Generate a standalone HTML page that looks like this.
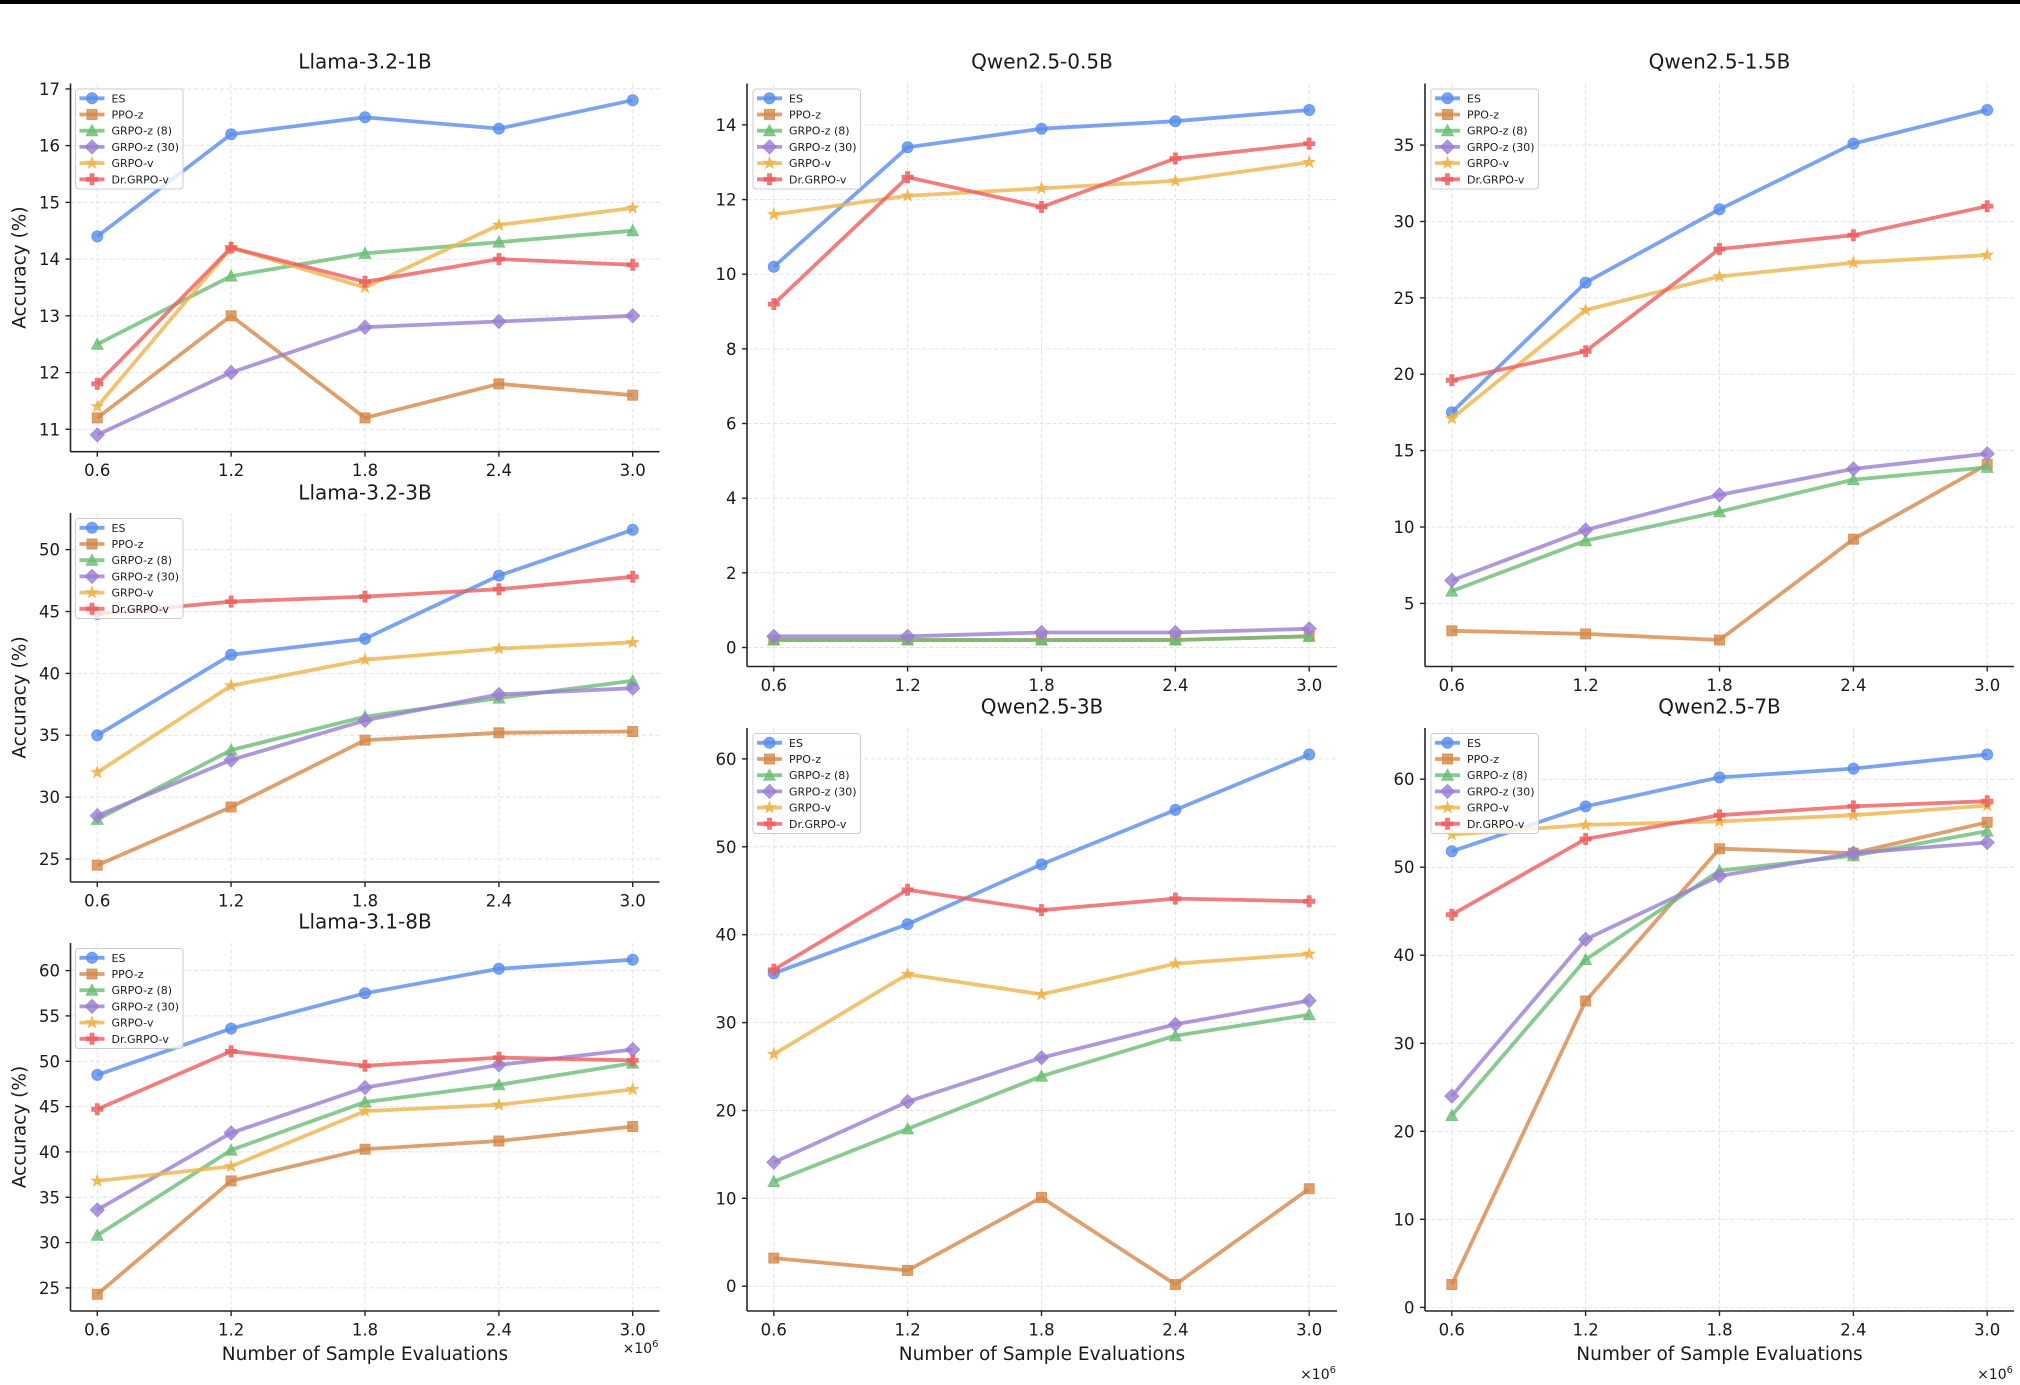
<!DOCTYPE html>
<html>
<head>
<meta charset="utf-8">
<style>
html,body{margin:0;padding:0;background:#fff;}
svg{display:block;}
text{font-family:"DejaVu Sans","Liberation Sans",sans-serif;fill:#1a1a1a;}
.tl{font-size:16.5px;}
.tlx{font-size:16.5px;text-anchor:middle;}
.tly{font-size:16.5px;text-anchor:end;}
.ttl{font-size:20px;text-anchor:middle;}
.lab{font-size:18.5px;text-anchor:middle;}
.lg{font-size:11px;}
.off{font-size:14px;text-anchor:end;}
.grid{stroke:#e2e2e2;stroke-width:1;stroke-dasharray:4 2.5;fill:none;}
.sp{stroke:#262626;stroke-width:1.6;fill:none;}
.tk{stroke:#262626;stroke-width:1.4;fill:none;}
.ln{fill:none;stroke-width:3.8;stroke-opacity:.8;stroke-linejoin:round;}
.es{stroke:#5A8DEC}.pp{stroke:#D5884A}.g8{stroke:#6ABD74}.g3{stroke:#9A7ED3}.gv{stroke:#ECB44C}.dr{stroke:#EC5E5E}
.d.es{marker:url(#k-es)}.d.pp{marker:url(#k-pp)}.d.g8{marker:url(#k-g8)}.d.g3{marker:url(#k-g3)}.d.gv{marker:url(#k-gv)}.d.dr{marker:url(#k-dr)}
.h.es{marker-mid:url(#k-es)}.h.pp{marker-mid:url(#k-pp)}.h.g8{marker-mid:url(#k-g8)}.h.g3{marker-mid:url(#k-g3)}.h.gv{marker-mid:url(#k-gv)}.h.dr{marker-mid:url(#k-dr)}
.lbox{fill:#fff;fill-opacity:.8;stroke:#cccccc;stroke-width:1;}
</style>
</head>
<body>
<svg width="2020" height="1385" viewBox="0 0 2020 1385" xmlns="http://www.w3.org/2000/svg">
<defs>
<marker id="k-es" markerUnits="userSpaceOnUse" markerWidth="20" markerHeight="20" viewBox="-10 -10 20 20" refX="0" refY="0" orient="0" overflow="visible"><circle r="5.5" fill="#5A8DEC" fill-opacity=".8" stroke="#5A8DEC" stroke-opacity=".8" stroke-width="1"/></marker>
<marker id="k-pp" markerUnits="userSpaceOnUse" markerWidth="20" markerHeight="20" viewBox="-10 -10 20 20" refX="0" refY="0" orient="0" overflow="visible"><rect x="-5" y="-5" width="10" height="10" fill="#D5884A" fill-opacity=".8" stroke="#D5884A" stroke-opacity=".8" stroke-width="1"/></marker>
<marker id="k-g8" markerUnits="userSpaceOnUse" markerWidth="20" markerHeight="20" viewBox="-10 -10 20 20" refX="0" refY="0" orient="0" overflow="visible"><polygon points="0,-6 5.8,5 -5.8,5" fill="#6ABD74" fill-opacity=".8" stroke="#6ABD74" stroke-opacity=".8" stroke-width="1"/></marker>
<marker id="k-g3" markerUnits="userSpaceOnUse" markerWidth="20" markerHeight="20" viewBox="-10 -10 20 20" refX="0" refY="0" orient="0" overflow="visible"><polygon points="0,-7 7,0 0,7 -7,0" fill="#9A7ED3" fill-opacity=".8" stroke="#9A7ED3" stroke-opacity=".8" stroke-width="1"/></marker>
<marker id="k-gv" markerUnits="userSpaceOnUse" markerWidth="20" markerHeight="20" viewBox="-10 -10 20 20" refX="0" refY="0" orient="0" overflow="visible"><polygon points="0,-6 1.41,-1.94 5.71,-1.85 2.28,0.74 3.53,4.85 0,2.4 -3.53,4.85 -2.28,0.74 -5.71,-1.85 -1.41,-1.94" fill="#ECB44C" fill-opacity=".85" stroke="#ECB44C" stroke-opacity=".85" stroke-width="1"/></marker>
<marker id="k-dr" markerUnits="userSpaceOnUse" markerWidth="20" markerHeight="20" viewBox="-10 -10 20 20" refX="0" refY="0" orient="0" overflow="visible"><polygon points="-1.9,-5.5 1.9,-5.5 1.9,-1.9 5.5,-1.9 5.5,1.9 1.9,1.9 1.9,5.5 -1.9,5.5 -1.9,1.9 -5.5,1.9 -5.5,-1.9 -1.9,-1.9" fill="#EC5E5E" fill-opacity=".8" stroke="#EC5E5E" stroke-opacity=".8" stroke-width="1"/></marker>
</defs>

<rect x="0" y="0" width="2020" height="1385" fill="#fff"/>
<rect x="0" y="0" width="2020" height="4" fill="#000"/>

<!-- ===================== Chart A: Llama-3.2-1B ===================== -->
<g>
<g class="grid">
<line x1="97.3" y1="83.5" x2="97.3" y2="451.7"/><line x1="231.1" y1="83.5" x2="231.1" y2="451.7"/><line x1="365" y1="83.5" x2="365" y2="451.7"/><line x1="498.9" y1="83.5" x2="498.9" y2="451.7"/><line x1="632.7" y1="83.5" x2="632.7" y2="451.7"/>
<line x1="70.5" y1="429.3" x2="659.5" y2="429.3"/><line x1="70.5" y1="372.6" x2="659.5" y2="372.6"/><line x1="70.5" y1="315.8" x2="659.5" y2="315.8"/><line x1="70.5" y1="259.1" x2="659.5" y2="259.1"/><line x1="70.5" y1="202.4" x2="659.5" y2="202.4"/><line x1="70.5" y1="145.6" x2="659.5" y2="145.6"/><line x1="70.5" y1="88.9" x2="659.5" y2="88.9"/>
</g>
<g class="tk">
<line x1="97.3" y1="451.7" x2="97.3" y2="456.7"/><line x1="231.1" y1="451.7" x2="231.1" y2="456.7"/><line x1="365" y1="451.7" x2="365" y2="456.7"/><line x1="498.9" y1="451.7" x2="498.9" y2="456.7"/><line x1="632.7" y1="451.7" x2="632.7" y2="456.7"/>
<line x1="65.5" y1="429.3" x2="70.5" y2="429.3"/><line x1="65.5" y1="372.6" x2="70.5" y2="372.6"/><line x1="65.5" y1="315.8" x2="70.5" y2="315.8"/><line x1="65.5" y1="259.1" x2="70.5" y2="259.1"/><line x1="65.5" y1="202.4" x2="70.5" y2="202.4"/><line x1="65.5" y1="145.6" x2="70.5" y2="145.6"/><line x1="65.5" y1="88.9" x2="70.5" y2="88.9"/>
</g>
<text class="tlx" x="97.3" y="476.2">0.6</text><text class="tlx" x="231.1" y="476.2">1.2</text><text class="tlx" x="365" y="476.2">1.8</text><text class="tlx" x="498.9" y="476.2">2.4</text><text class="tlx" x="632.7" y="476.2">3.0</text>
<text class="tly" x="60" y="435.3">11</text><text class="tly" x="60" y="378.6">12</text><text class="tly" x="60" y="321.8">13</text><text class="tly" x="60" y="265.1">14</text><text class="tly" x="60" y="208.4">15</text><text class="tly" x="60" y="151.6">16</text><text class="tly" x="60" y="94.9">17</text>
<text class="ttl" x="365" y="68.3">Llama-3.2-1B</text>
<text class="lab" transform="translate(25.5,267.6) rotate(-90)">Accuracy (%)</text>
<polyline class="ln d es" points="97.3,236.4 231.1,134.3 365,117.3 498.9,128.6 632.7,100.2"/>
<polyline class="ln d pp" points="97.3,417.9 231.1,315.8 365,417.9 498.9,383.9 632.7,395.2"/>
<polyline class="ln d g8" points="97.3,344.2 231.1,276.1 365,253.4 498.9,242.1 632.7,230.7"/>
<polyline class="ln d g3" points="97.3,434.9 231.1,372.5 365,327.2 498.9,321.5 632.7,315.8"/>
<polyline class="ln d gv" points="97.3,406.6 231.1,247.7 365,287.4 498.9,225 632.7,208"/>
<polyline class="ln d dr" points="97.3,383.9 231.1,247.7 365,281.8 498.9,259.1 632.7,264.8"/>
<g class="sp"><line x1="70.5" y1="83.5" x2="70.5" y2="451.7"/><line x1="70.5" y1="451.7" x2="659.5" y2="451.7"/></g>
<g transform="translate(75.5,89)">
<rect class="lbox" x="0" y="0" width="107.5" height="100" rx="3"/>
<polyline class="ln h es" points="4,9.3 16.5,9.3 29,9.3"/><text class="lg" x="36" y="13.3">ES</text>
<polyline class="ln h pp" points="4,25.5 16.5,25.5 29,25.5"/><text class="lg" x="36" y="29.5">PPO-z</text>
<polyline class="ln h g8" points="4,41.7 16.5,41.7 29,41.7"/><text class="lg" x="36" y="45.7">GRPO-z (8)</text>
<polyline class="ln h g3" points="4,57.9 16.5,57.9 29,57.9"/><text class="lg" x="36" y="61.9">GRPO-z (30)</text>
<polyline class="ln h gv" points="4,74.1 16.5,74.1 29,74.1"/><text class="lg" x="36" y="78.1">GRPO-v</text>
<polyline class="ln h dr" points="4,90.3 16.5,90.3 29,90.3"/><text class="lg" x="36" y="94.3">Dr.GRPO-v</text>
</g>
</g>

<!-- ===================== Chart B: Llama-3.2-3B ===================== -->
<g>
<g class="grid">
<line x1="97.3" y1="513" x2="97.3" y2="882"/><line x1="231.1" y1="513" x2="231.1" y2="882"/><line x1="365" y1="513" x2="365" y2="882"/><line x1="498.9" y1="513" x2="498.9" y2="882"/><line x1="632.7" y1="513" x2="632.7" y2="882"/>
<line x1="70.5" y1="859" x2="659.5" y2="859"/><line x1="70.5" y1="797.1" x2="659.5" y2="797.1"/><line x1="70.5" y1="735.2" x2="659.5" y2="735.2"/><line x1="70.5" y1="673.4" x2="659.5" y2="673.4"/><line x1="70.5" y1="611.5" x2="659.5" y2="611.5"/><line x1="70.5" y1="549.6" x2="659.5" y2="549.6"/>
</g>
<g class="tk">
<line x1="97.3" y1="882" x2="97.3" y2="887"/><line x1="231.1" y1="882" x2="231.1" y2="887"/><line x1="365" y1="882" x2="365" y2="887"/><line x1="498.9" y1="882" x2="498.9" y2="887"/><line x1="632.7" y1="882" x2="632.7" y2="887"/>
<line x1="65.5" y1="859" x2="70.5" y2="859"/><line x1="65.5" y1="797.1" x2="70.5" y2="797.1"/><line x1="65.5" y1="735.2" x2="70.5" y2="735.2"/><line x1="65.5" y1="673.4" x2="70.5" y2="673.4"/><line x1="65.5" y1="611.5" x2="70.5" y2="611.5"/><line x1="65.5" y1="549.6" x2="70.5" y2="549.6"/>
</g>
<text class="tlx" x="97.3" y="906.5">0.6</text><text class="tlx" x="231.1" y="906.5">1.2</text><text class="tlx" x="365" y="906.5">1.8</text><text class="tlx" x="498.9" y="906.5">2.4</text><text class="tlx" x="632.7" y="906.5">3.0</text>
<text class="tly" x="60" y="865">25</text><text class="tly" x="60" y="803.1">30</text><text class="tly" x="60" y="741.2">35</text><text class="tly" x="60" y="679.4">40</text><text class="tly" x="60" y="617.5">45</text><text class="tly" x="60" y="555.6">50</text>
<text class="ttl" x="365" y="499.3">Llama-3.2-3B</text>
<text class="lab" transform="translate(25.5,697.5) rotate(-90)">Accuracy (%)</text>
<polyline class="ln d es" points="97.3,735.2 231.1,654.8 365,638.7 498.9,575.6 632.7,529.8"/>
<polyline class="ln d pp" points="97.3,865.2 231.1,807 365,740.2 498.9,732.8 632.7,731.5"/>
<polyline class="ln d g8" points="97.3,819.4 231.1,750.1 365,716.7 498.9,698.1 632.7,680.8"/>
<polyline class="ln d g3" points="97.3,815.7 231.1,760 365,720.4 498.9,694.4 632.7,688.2"/>
<polyline class="ln d gv" points="97.3,772.4 231.1,685.7 365,659.7 498.9,648.6 632.7,642.4"/>
<polyline class="ln d dr" points="97.3,613.9 231.1,601.6 365,596.6 498.9,589.2 632.7,576.8"/>
<g class="sp"><line x1="70.5" y1="513" x2="70.5" y2="882"/><line x1="70.5" y1="882" x2="659.5" y2="882"/></g>
<g transform="translate(75.5,518.5)">
<rect class="lbox" x="0" y="0" width="107.5" height="100" rx="3"/>
<polyline class="ln h es" points="4,9.3 16.5,9.3 29,9.3"/><text class="lg" x="36" y="13.3">ES</text>
<polyline class="ln h pp" points="4,25.5 16.5,25.5 29,25.5"/><text class="lg" x="36" y="29.5">PPO-z</text>
<polyline class="ln h g8" points="4,41.7 16.5,41.7 29,41.7"/><text class="lg" x="36" y="45.7">GRPO-z (8)</text>
<polyline class="ln h g3" points="4,57.9 16.5,57.9 29,57.9"/><text class="lg" x="36" y="61.9">GRPO-z (30)</text>
<polyline class="ln h gv" points="4,74.1 16.5,74.1 29,74.1"/><text class="lg" x="36" y="78.1">GRPO-v</text>
<polyline class="ln h dr" points="4,90.3 16.5,90.3 29,90.3"/><text class="lg" x="36" y="94.3">Dr.GRPO-v</text>
</g>
</g>

<!-- ===================== Chart C: Llama-3.1-8B ===================== -->
<g>
<g class="grid">
<line x1="97.3" y1="943" x2="97.3" y2="1311"/><line x1="231.1" y1="943" x2="231.1" y2="1311"/><line x1="365" y1="943" x2="365" y2="1311"/><line x1="498.9" y1="943" x2="498.9" y2="1311"/><line x1="632.7" y1="943" x2="632.7" y2="1311"/>
<line x1="70.5" y1="1287.9" x2="659.5" y2="1287.9"/><line x1="70.5" y1="1242.6" x2="659.5" y2="1242.6"/><line x1="70.5" y1="1197.3" x2="659.5" y2="1197.3"/><line x1="70.5" y1="1151.9" x2="659.5" y2="1151.9"/><line x1="70.5" y1="1106.6" x2="659.5" y2="1106.6"/><line x1="70.5" y1="1061.3" x2="659.5" y2="1061.3"/><line x1="70.5" y1="1015.9" x2="659.5" y2="1015.9"/><line x1="70.5" y1="970.6" x2="659.5" y2="970.6"/>
</g>
<g class="tk">
<line x1="97.3" y1="1311" x2="97.3" y2="1316"/><line x1="231.1" y1="1311" x2="231.1" y2="1316"/><line x1="365" y1="1311" x2="365" y2="1316"/><line x1="498.9" y1="1311" x2="498.9" y2="1316"/><line x1="632.7" y1="1311" x2="632.7" y2="1316"/>
<line x1="65.5" y1="1287.9" x2="70.5" y2="1287.9"/><line x1="65.5" y1="1242.6" x2="70.5" y2="1242.6"/><line x1="65.5" y1="1197.3" x2="70.5" y2="1197.3"/><line x1="65.5" y1="1151.9" x2="70.5" y2="1151.9"/><line x1="65.5" y1="1106.6" x2="70.5" y2="1106.6"/><line x1="65.5" y1="1061.3" x2="70.5" y2="1061.3"/><line x1="65.5" y1="1015.9" x2="70.5" y2="1015.9"/><line x1="65.5" y1="970.6" x2="70.5" y2="970.6"/>
</g>
<text class="tlx" x="97.3" y="1335.5">0.6</text><text class="tlx" x="231.1" y="1335.5">1.2</text><text class="tlx" x="365" y="1335.5">1.8</text><text class="tlx" x="498.9" y="1335.5">2.4</text><text class="tlx" x="632.7" y="1335.5">3.0</text>
<text class="tly" x="60" y="1293.9">25</text><text class="tly" x="60" y="1248.6">30</text><text class="tly" x="60" y="1203.3">35</text><text class="tly" x="60" y="1157.9">40</text><text class="tly" x="60" y="1112.6">45</text><text class="tly" x="60" y="1067.3">50</text><text class="tly" x="60" y="1021.9">55</text><text class="tly" x="60" y="976.6">60</text>
<text class="ttl" x="365" y="928.3">Llama-3.1-8B</text>
<text class="lab" transform="translate(25.5,1127) rotate(-90)">Accuracy (%)</text>
<text class="lab" x="365" y="1360">Number of Sample Evaluations</text>
<text class="off" x="658.5" y="1353">×10<tspan font-size="10" dy="-6">6</tspan></text>
<polyline class="ln d es" points="97.3,1074.9 231.1,1028.6 365,993.3 498.9,968.8 632.7,959.7"/>
<polyline class="ln d pp" points="97.3,1294.3 231.1,1180.9 365,1149.2 498.9,1141 632.7,1126.5"/>
<polyline class="ln d g8" points="97.3,1235.3 231.1,1150.1 365,1102.1 498.9,1084.8 632.7,1063.1"/>
<polyline class="ln d g3" points="97.3,1209.9 231.1,1132.9 365,1087.6 498.9,1064.9 632.7,1049.5"/>
<polyline class="ln d gv" points="97.3,1180.9 231.1,1166.4 365,1111.1 498.9,1104.8 632.7,1089.4"/>
<polyline class="ln d dr" points="97.3,1109.3 231.1,1051.3 365,1065.8 498.9,1057.6 632.7,1060.4"/>
<g class="sp"><line x1="70.5" y1="943" x2="70.5" y2="1311"/><line x1="70.5" y1="1311" x2="659.5" y2="1311"/></g>
<g transform="translate(75.5,948.5)">
<rect class="lbox" x="0" y="0" width="107.5" height="100" rx="3"/>
<polyline class="ln h es" points="4,9.3 16.5,9.3 29,9.3"/><text class="lg" x="36" y="13.3">ES</text>
<polyline class="ln h pp" points="4,25.5 16.5,25.5 29,25.5"/><text class="lg" x="36" y="29.5">PPO-z</text>
<polyline class="ln h g8" points="4,41.7 16.5,41.7 29,41.7"/><text class="lg" x="36" y="45.7">GRPO-z (8)</text>
<polyline class="ln h g3" points="4,57.9 16.5,57.9 29,57.9"/><text class="lg" x="36" y="61.9">GRPO-z (30)</text>
<polyline class="ln h gv" points="4,74.1 16.5,74.1 29,74.1"/><text class="lg" x="36" y="78.1">GRPO-v</text>
<polyline class="ln h dr" points="4,90.3 16.5,90.3 29,90.3"/><text class="lg" x="36" y="94.3">Dr.GRPO-v</text>
</g>
</g>

<!-- ===================== Chart D: Qwen2.5-0.5B ===================== -->
<g>
<g class="grid">
<line x1="773.8" y1="83.5" x2="773.8" y2="666.5"/><line x1="907.6" y1="83.5" x2="907.6" y2="666.5"/><line x1="1041.5" y1="83.5" x2="1041.5" y2="666.5"/><line x1="1175.4" y1="83.5" x2="1175.4" y2="666.5"/><line x1="1309.2" y1="83.5" x2="1309.2" y2="666.5"/>
<line x1="747" y1="647.5" x2="1337" y2="647.5"/><line x1="747" y1="572.8" x2="1337" y2="572.8"/><line x1="747" y1="498.2" x2="1337" y2="498.2"/><line x1="747" y1="423.5" x2="1337" y2="423.5"/><line x1="747" y1="348.9" x2="1337" y2="348.9"/><line x1="747" y1="274.2" x2="1337" y2="274.2"/><line x1="747" y1="199.6" x2="1337" y2="199.6"/><line x1="747" y1="124.9" x2="1337" y2="124.9"/>
</g>
<g class="tk">
<line x1="773.8" y1="666.5" x2="773.8" y2="671.5"/><line x1="907.6" y1="666.5" x2="907.6" y2="671.5"/><line x1="1041.5" y1="666.5" x2="1041.5" y2="671.5"/><line x1="1175.4" y1="666.5" x2="1175.4" y2="671.5"/><line x1="1309.2" y1="666.5" x2="1309.2" y2="671.5"/>
<line x1="742" y1="647.5" x2="747" y2="647.5"/><line x1="742" y1="572.8" x2="747" y2="572.8"/><line x1="742" y1="498.2" x2="747" y2="498.2"/><line x1="742" y1="423.5" x2="747" y2="423.5"/><line x1="742" y1="348.9" x2="747" y2="348.9"/><line x1="742" y1="274.2" x2="747" y2="274.2"/><line x1="742" y1="199.6" x2="747" y2="199.6"/><line x1="742" y1="124.9" x2="747" y2="124.9"/>
</g>
<text class="tlx" x="773.8" y="691">0.6</text><text class="tlx" x="907.6" y="691">1.2</text><text class="tlx" x="1041.5" y="691">1.8</text><text class="tlx" x="1175.4" y="691">2.4</text><text class="tlx" x="1309.2" y="691">3.0</text>
<text class="tly" x="736.5" y="653.5">0</text><text class="tly" x="736.5" y="578.8">2</text><text class="tly" x="736.5" y="504.2">4</text><text class="tly" x="736.5" y="429.5">6</text><text class="tly" x="736.5" y="354.9">8</text><text class="tly" x="736.5" y="280.2">10</text><text class="tly" x="736.5" y="205.6">12</text><text class="tly" x="736.5" y="130.9">14</text>
<text class="ttl" x="1042" y="68.3">Qwen2.5-0.5B</text>
<polyline class="ln d es" points="773.8,266.8 907.6,147.3 1041.5,128.7 1175.4,121.2 1309.2,110"/>
<polyline class="ln d pp" points="773.8,640 907.6,640 1041.5,640 1175.4,640 1309.2,636.3"/>
<polyline class="ln d g8" points="773.8,640 907.6,640 1041.5,640 1175.4,640 1309.2,636.3"/>
<polyline class="ln d g3" points="773.8,636.3 907.6,636.3 1041.5,632.5 1175.4,632.5 1309.2,628.8"/>
<polyline class="ln d gv" points="773.8,214.5 907.6,195.8 1041.5,188.4 1175.4,180.9 1309.2,162.3"/>
<polyline class="ln d dr" points="773.8,304.1 907.6,177.2 1041.5,207 1175.4,158.5 1309.2,143.6"/>
<g class="sp"><line x1="747" y1="83.5" x2="747" y2="666.5"/><line x1="747" y1="666.5" x2="1337" y2="666.5"/></g>
<g transform="translate(753,89)">
<rect class="lbox" x="0" y="0" width="107.5" height="100" rx="3"/>
<polyline class="ln h es" points="4,9.3 16.5,9.3 29,9.3"/><text class="lg" x="36" y="13.3">ES</text>
<polyline class="ln h pp" points="4,25.5 16.5,25.5 29,25.5"/><text class="lg" x="36" y="29.5">PPO-z</text>
<polyline class="ln h g8" points="4,41.7 16.5,41.7 29,41.7"/><text class="lg" x="36" y="45.7">GRPO-z (8)</text>
<polyline class="ln h g3" points="4,57.9 16.5,57.9 29,57.9"/><text class="lg" x="36" y="61.9">GRPO-z (30)</text>
<polyline class="ln h gv" points="4,74.1 16.5,74.1 29,74.1"/><text class="lg" x="36" y="78.1">GRPO-v</text>
<polyline class="ln h dr" points="4,90.3 16.5,90.3 29,90.3"/><text class="lg" x="36" y="94.3">Dr.GRPO-v</text>
</g>
</g>

<!-- ===================== Chart E: Qwen2.5-1.5B ===================== -->
<g>
<g class="grid">
<line x1="1451.8" y1="83.5" x2="1451.8" y2="666.5"/><line x1="1585.6" y1="83.5" x2="1585.6" y2="666.5"/><line x1="1719.5" y1="83.5" x2="1719.5" y2="666.5"/><line x1="1853.4" y1="83.5" x2="1853.4" y2="666.5"/><line x1="1987.2" y1="83.5" x2="1987.2" y2="666.5"/>
<line x1="1425" y1="603.4" x2="2014" y2="603.4"/><line x1="1425" y1="527" x2="2014" y2="527"/><line x1="1425" y1="450.6" x2="2014" y2="450.6"/><line x1="1425" y1="374.2" x2="2014" y2="374.2"/><line x1="1425" y1="297.9" x2="2014" y2="297.9"/><line x1="1425" y1="221.5" x2="2014" y2="221.5"/><line x1="1425" y1="145.1" x2="2014" y2="145.1"/>
</g>
<g class="tk">
<line x1="1451.8" y1="666.5" x2="1451.8" y2="671.5"/><line x1="1585.6" y1="666.5" x2="1585.6" y2="671.5"/><line x1="1719.5" y1="666.5" x2="1719.5" y2="671.5"/><line x1="1853.4" y1="666.5" x2="1853.4" y2="671.5"/><line x1="1987.2" y1="666.5" x2="1987.2" y2="671.5"/>
<line x1="1420" y1="603.4" x2="1425" y2="603.4"/><line x1="1420" y1="527" x2="1425" y2="527"/><line x1="1420" y1="450.6" x2="1425" y2="450.6"/><line x1="1420" y1="374.2" x2="1425" y2="374.2"/><line x1="1420" y1="297.9" x2="1425" y2="297.9"/><line x1="1420" y1="221.5" x2="1425" y2="221.5"/><line x1="1420" y1="145.1" x2="1425" y2="145.1"/>
</g>
<text class="tlx" x="1451.8" y="691">0.6</text><text class="tlx" x="1585.6" y="691">1.2</text><text class="tlx" x="1719.5" y="691">1.8</text><text class="tlx" x="1853.4" y="691">2.4</text><text class="tlx" x="1987.2" y="691">3.0</text>
<text class="tly" x="1414.5" y="609.4">5</text><text class="tly" x="1414.5" y="533">10</text><text class="tly" x="1414.5" y="456.6">15</text><text class="tly" x="1414.5" y="380.2">20</text><text class="tly" x="1414.5" y="303.9">25</text><text class="tly" x="1414.5" y="227.5">30</text><text class="tly" x="1414.5" y="151.1">35</text>
<text class="ttl" x="1719.5" y="68.3">Qwen2.5-1.5B</text>
<polyline class="ln d es" points="1451.8,412.4 1585.6,282.6 1719.5,209.3 1853.4,143.6 1987.2,110"/>
<polyline class="ln d pp" points="1451.8,630.8 1585.6,633.9 1719.5,640 1853.4,539.2 1987.2,464.4"/>
<polyline class="ln d g8" points="1451.8,591.1 1585.6,540.7 1719.5,511.7 1853.4,479.6 1987.2,467.4"/>
<polyline class="ln d g3" points="1451.8,580.4 1585.6,530 1719.5,494.9 1853.4,468.9 1987.2,453.7"/>
<polyline class="ln d gv" points="1451.8,418.5 1585.6,310.1 1719.5,276.5 1853.4,262.7 1987.2,255.1"/>
<polyline class="ln d dr" points="1451.8,380.3 1585.6,351.3 1719.5,249 1853.4,235.2 1987.2,206.2"/>
<g class="sp"><line x1="1425" y1="83.5" x2="1425" y2="666.5"/><line x1="1425" y1="666.5" x2="2014" y2="666.5"/></g>
<g transform="translate(1431,89)">
<rect class="lbox" x="0" y="0" width="107.5" height="100" rx="3"/>
<polyline class="ln h es" points="4,9.3 16.5,9.3 29,9.3"/><text class="lg" x="36" y="13.3">ES</text>
<polyline class="ln h pp" points="4,25.5 16.5,25.5 29,25.5"/><text class="lg" x="36" y="29.5">PPO-z</text>
<polyline class="ln h g8" points="4,41.7 16.5,41.7 29,41.7"/><text class="lg" x="36" y="45.7">GRPO-z (8)</text>
<polyline class="ln h g3" points="4,57.9 16.5,57.9 29,57.9"/><text class="lg" x="36" y="61.9">GRPO-z (30)</text>
<polyline class="ln h gv" points="4,74.1 16.5,74.1 29,74.1"/><text class="lg" x="36" y="78.1">GRPO-v</text>
<polyline class="ln h dr" points="4,90.3 16.5,90.3 29,90.3"/><text class="lg" x="36" y="94.3">Dr.GRPO-v</text>
</g>
</g>

<!-- ===================== Chart F: Qwen2.5-3B ===================== -->
<g>
<g class="grid">
<line x1="773.8" y1="728" x2="773.8" y2="1311"/><line x1="907.6" y1="728" x2="907.6" y2="1311"/><line x1="1041.5" y1="728" x2="1041.5" y2="1311"/><line x1="1175.4" y1="728" x2="1175.4" y2="1311"/><line x1="1309.2" y1="728" x2="1309.2" y2="1311"/>
<line x1="747" y1="1286.2" x2="1337" y2="1286.2"/><line x1="747" y1="1198.3" x2="1337" y2="1198.3"/><line x1="747" y1="1110.5" x2="1337" y2="1110.5"/><line x1="747" y1="1022.6" x2="1337" y2="1022.6"/><line x1="747" y1="934.7" x2="1337" y2="934.7"/><line x1="747" y1="846.8" x2="1337" y2="846.8"/><line x1="747" y1="758.9" x2="1337" y2="758.9"/>
</g>
<g class="tk">
<line x1="773.8" y1="1311" x2="773.8" y2="1316"/><line x1="907.6" y1="1311" x2="907.6" y2="1316"/><line x1="1041.5" y1="1311" x2="1041.5" y2="1316"/><line x1="1175.4" y1="1311" x2="1175.4" y2="1316"/><line x1="1309.2" y1="1311" x2="1309.2" y2="1316"/>
<line x1="742" y1="1286.2" x2="747" y2="1286.2"/><line x1="742" y1="1198.3" x2="747" y2="1198.3"/><line x1="742" y1="1110.5" x2="747" y2="1110.5"/><line x1="742" y1="1022.6" x2="747" y2="1022.6"/><line x1="742" y1="934.7" x2="747" y2="934.7"/><line x1="742" y1="846.8" x2="747" y2="846.8"/><line x1="742" y1="758.9" x2="747" y2="758.9"/>
</g>
<text class="tlx" x="773.8" y="1335.5">0.6</text><text class="tlx" x="907.6" y="1335.5">1.2</text><text class="tlx" x="1041.5" y="1335.5">1.8</text><text class="tlx" x="1175.4" y="1335.5">2.4</text><text class="tlx" x="1309.2" y="1335.5">3.0</text>
<text class="tly" x="736.5" y="1292.2">0</text><text class="tly" x="736.5" y="1204.3">10</text><text class="tly" x="736.5" y="1116.5">20</text><text class="tly" x="736.5" y="1028.6">30</text><text class="tly" x="736.5" y="940.7">40</text><text class="tly" x="736.5" y="852.8">50</text><text class="tly" x="736.5" y="764.9">60</text>
<text class="ttl" x="1042" y="713.3">Qwen2.5-3B</text>
<text class="lab" x="1042" y="1360">Number of Sample Evaluations</text>
<text class="off" x="1336" y="1379">×10<tspan font-size="10" dy="-6">6</tspan></text>
<polyline class="ln d es" points="773.8,973.3 907.6,924.1 1041.5,864.4 1175.4,809.9 1309.2,754.5"/>
<polyline class="ln d pp" points="773.8,1258.1 907.6,1270.4 1041.5,1197.5 1175.4,1284.5 1309.2,1188.7"/>
<polyline class="ln d g8" points="773.8,1181.6 907.6,1128.9 1041.5,1076.2 1175.4,1035.7 1309.2,1014.7"/>
<polyline class="ln d g3" points="773.8,1162.3 907.6,1101.7 1041.5,1057.7 1175.4,1024.3 1309.2,1000.6"/>
<polyline class="ln d gv" points="773.8,1054.2 907.6,974.2 1041.5,994.4 1175.4,963.7 1309.2,954"/>
<polyline class="ln d dr" points="773.8,969.8 907.6,889.8 1041.5,910.1 1175.4,898.6 1309.2,901.3"/>
<g class="sp"><line x1="747" y1="728" x2="747" y2="1311"/><line x1="747" y1="1311" x2="1337" y2="1311"/></g>
<g transform="translate(753,733.5)">
<rect class="lbox" x="0" y="0" width="107.5" height="100" rx="3"/>
<polyline class="ln h es" points="4,9.3 16.5,9.3 29,9.3"/><text class="lg" x="36" y="13.3">ES</text>
<polyline class="ln h pp" points="4,25.5 16.5,25.5 29,25.5"/><text class="lg" x="36" y="29.5">PPO-z</text>
<polyline class="ln h g8" points="4,41.7 16.5,41.7 29,41.7"/><text class="lg" x="36" y="45.7">GRPO-z (8)</text>
<polyline class="ln h g3" points="4,57.9 16.5,57.9 29,57.9"/><text class="lg" x="36" y="61.9">GRPO-z (30)</text>
<polyline class="ln h gv" points="4,74.1 16.5,74.1 29,74.1"/><text class="lg" x="36" y="78.1">GRPO-v</text>
<polyline class="ln h dr" points="4,90.3 16.5,90.3 29,90.3"/><text class="lg" x="36" y="94.3">Dr.GRPO-v</text>
</g>
</g>

<!-- ===================== Chart G: Qwen2.5-7B ===================== -->
<g>
<g class="grid">
<line x1="1451.8" y1="728" x2="1451.8" y2="1311"/><line x1="1585.6" y1="728" x2="1585.6" y2="1311"/><line x1="1719.5" y1="728" x2="1719.5" y2="1311"/><line x1="1853.4" y1="728" x2="1853.4" y2="1311"/><line x1="1987.2" y1="728" x2="1987.2" y2="1311"/>
<line x1="1425" y1="1307.4" x2="2014" y2="1307.4"/><line x1="1425" y1="1219.3" x2="2014" y2="1219.3"/><line x1="1425" y1="1131.3" x2="2014" y2="1131.3"/><line x1="1425" y1="1043.3" x2="2014" y2="1043.3"/><line x1="1425" y1="955.2" x2="2014" y2="955.2"/><line x1="1425" y1="867.2" x2="2014" y2="867.2"/><line x1="1425" y1="779.2" x2="2014" y2="779.2"/>
</g>
<g class="tk">
<line x1="1451.8" y1="1311" x2="1451.8" y2="1316"/><line x1="1585.6" y1="1311" x2="1585.6" y2="1316"/><line x1="1719.5" y1="1311" x2="1719.5" y2="1316"/><line x1="1853.4" y1="1311" x2="1853.4" y2="1316"/><line x1="1987.2" y1="1311" x2="1987.2" y2="1316"/>
<line x1="1420" y1="1307.4" x2="1425" y2="1307.4"/><line x1="1420" y1="1219.3" x2="1425" y2="1219.3"/><line x1="1420" y1="1131.3" x2="1425" y2="1131.3"/><line x1="1420" y1="1043.3" x2="1425" y2="1043.3"/><line x1="1420" y1="955.2" x2="1425" y2="955.2"/><line x1="1420" y1="867.2" x2="1425" y2="867.2"/><line x1="1420" y1="779.2" x2="1425" y2="779.2"/>
</g>
<text class="tlx" x="1451.8" y="1335.5">0.6</text><text class="tlx" x="1585.6" y="1335.5">1.2</text><text class="tlx" x="1719.5" y="1335.5">1.8</text><text class="tlx" x="1853.4" y="1335.5">2.4</text><text class="tlx" x="1987.2" y="1335.5">3.0</text>
<text class="tly" x="1414.5" y="1313.4">0</text><text class="tly" x="1414.5" y="1225.3">10</text><text class="tly" x="1414.5" y="1137.3">20</text><text class="tly" x="1414.5" y="1049.3">30</text><text class="tly" x="1414.5" y="961.2">40</text><text class="tly" x="1414.5" y="873.2">50</text><text class="tly" x="1414.5" y="785.2">60</text>
<text class="ttl" x="1719.5" y="713.3">Qwen2.5-7B</text>
<text class="lab" x="1719.5" y="1360">Number of Sample Evaluations</text>
<text class="off" x="2013" y="1379">×10<tspan font-size="10" dy="-6">6</tspan></text>
<polyline class="ln d es" points="1451.8,851.3 1585.6,806.4 1719.5,777.4 1853.4,768.6 1987.2,754.5"/>
<polyline class="ln d pp" points="1451.8,1284.5 1585.6,1001 1719.5,848.7 1853.4,853.1 1987.2,822.3"/>
<polyline class="ln d g8" points="1451.8,1115.5 1585.6,959.6 1719.5,870.7 1853.4,855.7 1987.2,831.1"/>
<polyline class="ln d g3" points="1451.8,1096.1 1585.6,939.4 1719.5,876 1853.4,853.1 1987.2,842.5"/>
<polyline class="ln d gv" points="1451.8,834.6 1585.6,824.9 1719.5,821.4 1853.4,815.2 1987.2,805.6"/>
<polyline class="ln d dr" points="1451.8,914.7 1585.6,839 1719.5,815.2 1853.4,806.4 1987.2,801.2"/>
<g class="sp"><line x1="1425" y1="728" x2="1425" y2="1311"/><line x1="1425" y1="1311" x2="2014" y2="1311"/></g>
<g transform="translate(1431,733.5)">
<rect class="lbox" x="0" y="0" width="107.5" height="100" rx="3"/>
<polyline class="ln h es" points="4,9.3 16.5,9.3 29,9.3"/><text class="lg" x="36" y="13.3">ES</text>
<polyline class="ln h pp" points="4,25.5 16.5,25.5 29,25.5"/><text class="lg" x="36" y="29.5">PPO-z</text>
<polyline class="ln h g8" points="4,41.7 16.5,41.7 29,41.7"/><text class="lg" x="36" y="45.7">GRPO-z (8)</text>
<polyline class="ln h g3" points="4,57.9 16.5,57.9 29,57.9"/><text class="lg" x="36" y="61.9">GRPO-z (30)</text>
<polyline class="ln h gv" points="4,74.1 16.5,74.1 29,74.1"/><text class="lg" x="36" y="78.1">GRPO-v</text>
<polyline class="ln h dr" points="4,90.3 16.5,90.3 29,90.3"/><text class="lg" x="36" y="94.3">Dr.GRPO-v</text>
</g>
</g>
</svg>
</body>
</html>
